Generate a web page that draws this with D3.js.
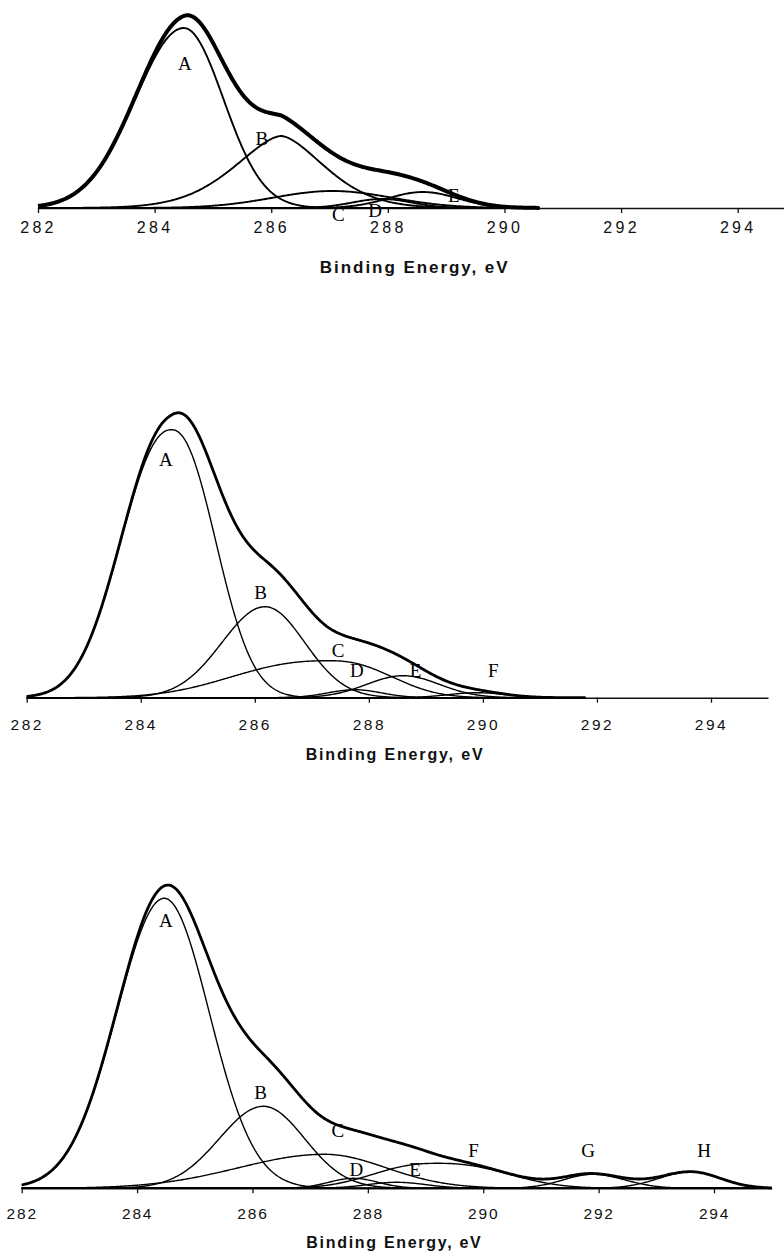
<!DOCTYPE html>
<html>
<head>
<meta charset="utf-8">
<script src="https://cdn.jsdelivr.net/npm/d3@7"></script>
<style>
body { margin: 0; background: #fff; }
</style>
</head>
<body>
<script>
var width = 784,
    height = 1253;

var ticks = [282, 284, 286, 288, 290, 292, 294];
var axisTitle = "Binding Energy, eV";

// panel 1: fitted components (binding energy in eV, intensity in a.u.)
var names1 = ["A", "B", "C", "D", "E"];
var center1 = [284.5, 286.17, 287.05, 287.9, 288.6];
var height1 = [180, 72, 17, 9, 16];
var halfLeft1 = [0.98, 0.92, 1.2, 0.6, 0.7];
var halfRight1 = [0.8, 0.86, 1.2, 0.6, 0.7];
var shape1 = [2, 1.65, 2, 2, 2];
var labelE1 = [284.52, 285.84, 287.15, 287.78, 289.13];
var labelI1 = [138.5, 63, -12.5, -9, 6.3];

// panel 2
var names2 = ["A", "B", "C", "D", "E", "F"];
var center2 = [284.54, 286.18, 287.3, 287.75, 288.6, 289.9];
var height2 = [268, 91, 37, 8, 22, 5];
var halfLeft2 = [1.0, 0.89, 1.85, 0.55, 0.75, 0.6];
var halfRight2 = [0.87, 0.82, 1.2, 0.55, 0.75, 0.6];
var shape2 = [2.2, 2, 2.4, 2, 2, 2];
var labelE2 = [284.44, 286.1, 287.46, 287.79, 288.82, 290.18];
var labelI2 = [231.7, 98.4, 40.4, 21, 21, 21];

// panel 3
var names3 = ["A", "B", "C", "D", "E", "F", "G", "H"];
var center3 = [284.47, 286.19, 287.25, 287.75, 288.5, 289.2, 291.9, 293.6];
var height3 = [290, 82, 34, 10, 6, 25, 14, 16.5];
var halfLeft3 = [0.97, 0.9, 1.75, 0.5, 0.6, 1.2, 0.6, 0.65];
var halfRight3 = [0.92, 0.84, 1.25, 0.5, 0.6, 1.35, 0.65, 0.6];
var shape3 = [2, 2, 2, 2, 2, 2.4, 2, 2];
var labelE3 = [284.5, 286.14, 287.48, 287.8, 288.82, 289.83, 291.82, 293.83];
var labelI3 = [261.6, 89, 51, 12.3, 12.3, 31.6, 31.6, 31.6];

var panels = [
  {names: names1, center: center1, height: height1, wl: halfLeft1, wr: halfRight1, p: shape1,
   labelE: labelE1, labelI: labelI1, eEnd: 290.6,
   x282: 38, x294: 737.7, base: 208, totalW: 4, compW: 1.9,
   tickFont: 16, tickLs: 3.3, tickPad: 9, titleFont: 17, titleLs: 1.95, titleDy: 65},
  {names: names2, center: center2, height: height2, wl: halfLeft2, wr: halfRight2, p: shape2,
   labelE: labelE2, labelI: labelI2, eEnd: 291.8,
   x282: 26.7, x294: 711, base: 697.7, totalW: 2.8, compW: 1.4,
   tickFont: 15.5, tickLs: 2.5, tickPad: 16, titleFont: 16, titleLs: 1.85, titleDy: 62},
  {names: names3, center: center3, height: height3, wl: halfLeft3, wr: halfRight3, p: shape3,
   labelE: labelE3, labelI: labelI3, eEnd: 295,
   x282: 21.7, x294: 714, base: 1188.3, totalW: 2.8, compW: 1.4,
   tickFont: 15.5, tickLs: 1.8, tickPad: 15, titleFont: 16, titleLs: 1.7, titleDy: 60}
];

var svg = d3.select("body").append("svg")
    .attr("width", width)
    .attr("height", height)
    .style("background", "#fff");

// peak shape: exp(-ln2 * |dE / halfwidth|^p), separate half widths each side
function peak(e, c, h, wl, wr, p) {
  var d = e - c,
      w = d < 0 ? wl : wr;
  return h * Math.exp(-Math.LN2 * Math.pow(Math.abs(d) / w, p));
}

panels.forEach(function(P) {
  var x = d3.scaleLinear().domain([282, 294]).range([P.x282, P.x294]),
      y = d3.scaleLinear().domain([0, 100]).range([P.base, P.base - 100]);

  var g = svg.append("g");

  // axis
  var xa = x.copy().domain([282, 295]).range([x(282), x(295)]);
  var axis = g.append("g")
      .attr("transform", "translate(0," + P.base + ")")
      .call(d3.axisBottom(xa).tickValues(ticks).tickSize(5).tickSizeOuter(0).tickPadding(P.tickPad));
  axis.select(".domain").attr("stroke", "#111").attr("stroke-width", 1.6);
  axis.selectAll(".tick line").attr("stroke", "#111").attr("stroke-width", 1.3);
  axis.selectAll(".tick text")
      .attr("fill", "#111")
      .style("font-family", "'Liberation Sans', Arial, sans-serif")
      .style("font-size", P.tickFont + "px")
      .style("letter-spacing", P.tickLs + "px");

  g.append("text")
      .attr("x", x(288.46))
      .attr("y", P.base + P.titleDy)
      .attr("text-anchor", "middle")
      .attr("fill", "#111")
      .style("font-family", "'Liberation Sans', Arial, sans-serif")
      .style("font-weight", "bold")
      .style("font-size", P.titleFont + "px")
      .style("letter-spacing", P.titleLs + "px")
      .text(axisTitle);

  // component letters
  g.selectAll(".lab")
      .data(P.names)
      .enter().append("text")
      .attr("class", "lab")
      .attr("x", function(d, i) { return x(P.labelE[i]); })
      .attr("y", function(d, i) { return y(P.labelI[i]); })
      .attr("text-anchor", "middle")
      .attr("fill", "#000")
      .style("font-family", "'Liberation Serif', 'Times New Roman', serif")
      .style("font-size", "19px")
      .text(function(d) { return d; });

  var energies = d3.range(282, P.eEnd + 0.0001, 0.02);

  var comps = P.names.map(function(n, i) {
    return energies.map(function(e) {
      return [e, peak(e, P.center[i], P.height[i], P.wl[i], P.wr[i], P.p[i])];
    });
  });

  var total = energies.map(function(e, j) {
    return [e, d3.sum(comps, function(c) { return c[j][1]; })];
  });

  var line = d3.line()
      .x(function(d) { return x(d[0]); })
      .y(function(d) { return y(d[1]); });

  g.selectAll(".comp")
      .data(comps)
      .enter().append("path")
      .attr("class", "comp")
      .attr("fill", "none")
      .attr("stroke", "#000")
      .attr("stroke-width", P.compW)
      .attr("d", line);

  g.append("path")
      .datum(total)
      .attr("fill", "none")
      .attr("stroke", "#000")
      .attr("stroke-width", P.totalW)
      .attr("stroke-linejoin", "round")
      .attr("d", line);
});
</script>
</body>
</html>
